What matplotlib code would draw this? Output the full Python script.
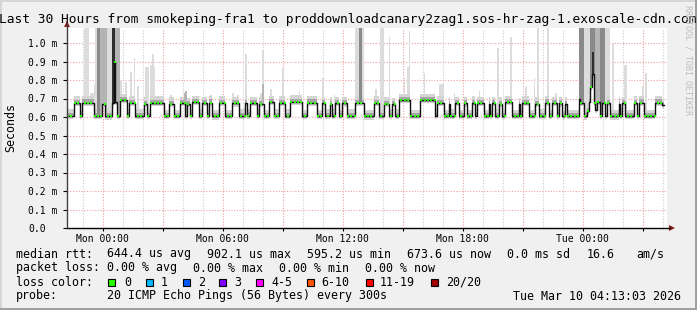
import matplotlib
matplotlib.use('Agg')
import matplotlib.pyplot as plt
from matplotlib.lines import Line2D
from matplotlib.patches import Rectangle, Polygon
import numpy as np
import pandas as pd

W, H = 697, 310
DPI = 100
MONO = 'DejaVu Sans Mono'

# median rtt (ms), run-length coded: number of 5-minute samples, level
seg_len = [4, 4, 1, 7, 5, 2, 4, 1, 1, 1, 2, 4, 1, 4, 5, 2, 2, 8, 3,
           3, 4, 3, 1, 2, 1, 4, 2, 3, 1, 2, 4, 4, 4, 4, 4, 1, 2, 4, 1, 3, 3,
           3, 3, 4, 3, 7, 3, 6, 3, 2, 3, 1, 2, 2, 2, 3, 5, 5, 6,
           3, 3, 3, 2, 2, 2, 7, 6, 9, 1, 4, 3, 1, 3, 2, 3, 2, 3,
           2, 1, 4, 3, 1, 1, 2, 2, 2, 2, 4, 4, 1, 1, 4, 4, 2, 4, 2, 2, 3, 1, 2, 2, 1, 7,
           1, 2, 2, 1, 1, 1, 1, 1, 1, 2, 1, 2, 1, 2, 5, 1, 1, 2, 5, 2, 1, 3, 7, 4, 1]
seg_val = [0.607, 0.676, 0.605, 0.678, 0.606, 0.672, 0.603, 0.675, 0.900, 0.680, 0.604, 0.690, 0.608, 0.677, 0.606, 0.672, 0.607, 0.676, 0.605,
           0.672, 0.604, 0.674, 0.608, 0.670, 0.607, 0.680, 0.606, 0.674, 0.605, 0.678, 0.603, 0.677, 0.604, 0.673, 0.606, 0.676, 0.608, 0.675, 0.606, 0.672, 0.604,
           0.680, 0.607, 0.676, 0.606, 0.682, 0.605, 0.678, 0.604, 0.674, 0.607, 0.672, 0.606, 0.675, 0.604, 0.673, 0.606, 0.677, 0.603,
           0.676, 0.605, 0.672, 0.607, 0.670, 0.606, 0.690, 0.604, 0.692, 0.607, 0.676, 0.605, 0.672, 0.606, 0.674, 0.604, 0.673, 0.605,
           0.676, 0.608, 0.674, 0.605, 0.672, 0.607, 0.675, 0.606, 0.672, 0.605, 0.680, 0.604, 0.670, 0.606, 0.676, 0.605, 0.672, 0.606, 0.678, 0.605, 0.674, 0.608, 0.673, 0.604, 0.672, 0.605,
           0.700, 0.676, 0.603, 0.630, 0.680, 0.760, 0.830, 0.675, 0.640, 0.680, 0.606, 0.678, 0.607, 0.676, 0.603, 0.672, 0.606, 0.674, 0.604, 0.676, 0.607, 0.678, 0.605, 0.678, 0.665]

# smoke spikes: first sample, samples wide, top of smoke (ms), shade 0 light .. 3 black
spike_start = [10, 14, 16, 17, 18, 20, 24, 27, 29, 32, 35, 38, 40, 42, 47, 50, 51, 52,
               62, 70, 71, 86, 99, 102, 107, 116, 117, 117, 122, 129, 139, 153, 160,
               173, 175, 185, 188, 193, 202, 204, 205,
               214, 223, 232, 247, 258, 266, 275, 280, 282, 288, 293,
               307, 310, 314, 315, 317, 320, 323, 327, 334, 345, 347]
spike_count = [3, 2, 1, 1, 2, 4, 3, 2, 3, 1, 1, 1, 1, 1, 2, 1, 1, 1,
               1, 1, 1, 1, 1, 1, 1, 1, 1, 1, 1, 1, 1, 1, 1,
               5, 2, 1, 2, 1, 1, 1, 1,
               1, 3, 1, 1, 1, 1, 1, 1, 1, 1, 1,
               3, 4, 3, 1, 3, 3, 3, 1, 2, 1, 1]
spike_top = [1.09, 0.73, 0.78, 1.09, 1.09, 1.09, 1.09, 1.09, 1.09, 0.80, 0.79, 0.845, 0.92, 0.77, 0.87, 0.88, 0.94, 0.87,
             0.72, 0.73, 0.74, 0.72, 0.73, 0.72, 0.94, 0.73, 0.96, 0.78, 0.75, 0.865, 0.74, 0.81, 0.72,
             1.09, 1.09, 0.75, 1.09, 1.03, 0.81, 0.87, 1.065,
             0.84, 0.78, 0.73, 0.74, 0.975, 1.03, 0.76, 0.81, 1.09, 1.09, 0.73,
             1.09, 1.09, 1.09, 0.95, 1.09, 1.09, 1.09, 1.00, 0.88, 0.77, 0.84]
spike_shade = [0, 0, 0, 0, 2, 1, 0, 3, 1, 0, 0, 0, 0, 0, 0, 0, 0, 0,
               0, 1, 1, 0, 0, 0, 0, 0, 0, 1, 0, 0, 0, 0, 0,
               0, 2, 0, 0, 0, 0, 0, 0,
               0, 0, 0, 0, 0, 0, 0, 0, 0, 0, 0,
               2, 0, 2, 3, 1, 2, 0, 0, 0, 0, 0]
shade_colors = ['#dcdcdc', '#b4b4b4', '#8a8a8a', '#2e2e2e']

loss_labels = ['0', '1', '2', '3', '4-5', '6-10', '11-19', '20/20']
loss_colors = ['#26ff00', '#00b8ff', '#0059ff', '#7e00ff', '#ff00ff', '#ff5500', '#ff0000', '#a10000']

rtt_items = ['644.4 us avg', '902.1 us max', '595.2 us min', '673.6 us now', '0.0 ms sd', '16.6', 'am/s']
loss_items = ['0.00 % avg', '0.00 % max', '0.00 % min', '0.00 % now']

t_end = pd.Timestamp('2026-03-10 04:13:03')
span_h = 30
t_start = t_end - pd.Timedelta(hours=span_h)


def fx(x):
    return x / W


def fy(y):
    return 1 - y / H


fig = plt.figure(figsize=(W / DPI, H / DPI), dpi=DPI, facecolor='#f0f0f0')
ax = fig.add_axes([fx(67), fy(228), 600 / W, 200 / H])
ax.set_facecolor('white')
ax.set_xlim(0, span_h)
ax.set_ylim(0, 200 / 185)
for s in ax.spines.values():
    s.set_visible(False)

# grid: hourly grey, 3-hourly red, 0.1 ms red
hour0 = t_start.ceil('h')
major_pos, label_pos, label_txt = [], [], []
t = hour0
while t < t_end:
    h = (t - t_start).total_seconds() / 3600
    if t.hour % 3 == 0:
        ax.axvline(h, color='#f0a0a0', lw=0.8, dashes=(1, 1.5), zorder=0)
        major_pos.append(h)
    else:
        ax.axvline(h, color='#cccccc', lw=0.8, dashes=(1, 1.5), zorder=0)
    if t.hour % 6 == 0:
        label_pos.append(h)
        label_txt.append(t.strftime('%a %H:%M'))
    t += pd.Timedelta(hours=1)
yt = np.arange(0, 1.05, 0.1)
for v in yt[1:]:
    ax.axhline(v, color='#f0a0a0', lw=0.8, dashes=(1, 1.5), zorder=0)

# smoke
med = np.repeat(seg_val, seg_len)
n = len(med)
xs = np.arange(n) / 12.0
dw = 1 / 12.0
for shade in range(4):
    for st, cnt, top, sh in zip(spike_start, spike_count, spike_top, spike_shade):
        if sh != shade:
            continue
        sl = slice(st, st + cnt)
        ax.bar(xs[sl], top - med[sl], bottom=med[sl], width=dw, align='edge',
               color=shade_colors[sh], linewidth=0, zorder=1 + shade)
ax.bar(xs, 0.052, bottom=med - 0.017, width=dw, align='edge', color='#d4d4d4', linewidth=0, zorder=1.5)
ax.bar(xs, 0.026, bottom=med - 0.009, width=dw, align='edge', color='#a6a6a6', linewidth=0, zorder=1.6)

# median line with loss colour
ax.step(np.append(xs, n / 12.0), np.append(med, med[-1]), where='post', color='#101010', lw=1.0, zorder=7)
ax.plot(xs[::2] + dw / 2, med[::2], 's', ms=2.0, mew=0, color=loss_colors[0], zorder=8)

# ticks
ax.set_yticks(yt)
ax.set_yticklabels(['0.0'] + [f'{v:.1f} m' for v in yt[1:]], family=MONO, fontsize=7.05)
for lab in ax.get_yticklabels():
    lab.set_horizontalalignment('left')
ax.tick_params(axis='y', length=3, width=0.8, pad=25, color='black')
ax.set_xticks(major_pos, minor=True)
ax.set_xticks(label_pos)
ax.set_xticklabels(label_txt, family=MONO, fontsize=7.05)
ax.tick_params(axis='x', which='both', length=2, width=0.8, pad=2, color='black')

# axes lines and arrows
fig.add_artist(Line2D([fx(67), fx(670)], [fy(228), fy(228)], color='black', lw=1))
fig.add_artist(Line2D([fx(67), fx(67)], [fy(228), fy(24)], color='#404040', lw=1))
fig.add_artist(Polygon([[fx(669), fy(225)], [fx(669), fy(231)], [fx(675), fy(228)]], closed=True,
                       color='#8b1a1a', lw=0))
fig.add_artist(Polygon([[fx(64), fy(27)], [fx(70), fy(27)], [fx(67), fy(21)]], closed=True,
                       color='#8b1a1a', lw=0))

# title and labels
fig.text(fx(348), fy(20), 'Last 30 Hours from smokeping-fra1 to proddownloadcanary2zag1.sos-hr-zag-1.exoscale-cdn.com',
         family=MONO, fontsize=9.3, ha='center', va='center')
fig.text(fx(11), fy(128), 'Seconds', family=MONO, fontsize=8.4, rotation=90, ha='center', va='center')
fig.text(fx(688), fy(5), 'RRDTOOL / TOBI OETIKER', family=MONO, fontsize=6, rotation=-90,
         ha='center', va='top', color='#bdbdbd')

# legend
fs = 8.4
fig.text(fx(16), fy(254), 'median rtt:', family=MONO, fontsize=fs, va='center')
for txt, x in zip(rtt_items, [107, 207, 307, 407, 507, 587, 636]):
    fig.text(fx(x), fy(254), txt, family=MONO, fontsize=fs, va='center')
fig.text(fx(16), fy(268), 'packet loss:', family=MONO, fontsize=fs, va='center')
for txt, x in zip(loss_items, [107, 193, 279, 365]):
    fig.text(fx(x), fy(268), txt, family=MONO, fontsize=fs, va='center')
fig.text(fx(16), fy(282), 'loss color:', family=MONO, fontsize=fs, va='center')
for lab, col, bx, tx in zip(loss_labels, loss_colors,
                            [108, 146, 183, 219, 256, 307, 366, 431],
                            [124, 161, 198, 234, 271, 321, 380, 446]):
    fig.add_artist(Rectangle((fx(bx), fy(286)), 7 / W, 7 / H, facecolor=col, edgecolor='black', lw=0.8))
    fig.text(fx(tx), fy(282), lab, family=MONO, fontsize=fs, va='center')
fig.text(fx(16), fy(296), 'probe:', family=MONO, fontsize=fs, va='center')
fig.text(fx(107), fy(296), '20 ICMP Echo Pings (56 Bytes) every 300s', family=MONO, fontsize=fs, va='center')
fig.text(fx(513), fy(296), t_end.strftime('%a %b %d %H:%M:%S %Y'), family=MONO, fontsize=fs, va='center')

# frame shading
fig.add_artist(Rectangle((0, 0), 2 / W, 1, facecolor='#d6d6d6', lw=0))
fig.add_artist(Rectangle((0, 1 - 2 / H), 1, 2 / H, facecolor='#d6d6d6', lw=0))
fig.add_artist(Rectangle((1 - 2 / W, 0), 2 / W, 1, facecolor='#a0a0a0', lw=0))
fig.add_artist(Rectangle((0, 0), 1, 2.5 / H, facecolor='#a0a0a0', lw=0))

fig.savefig('out.png', dpi=DPI, facecolor=fig.get_facecolor())
